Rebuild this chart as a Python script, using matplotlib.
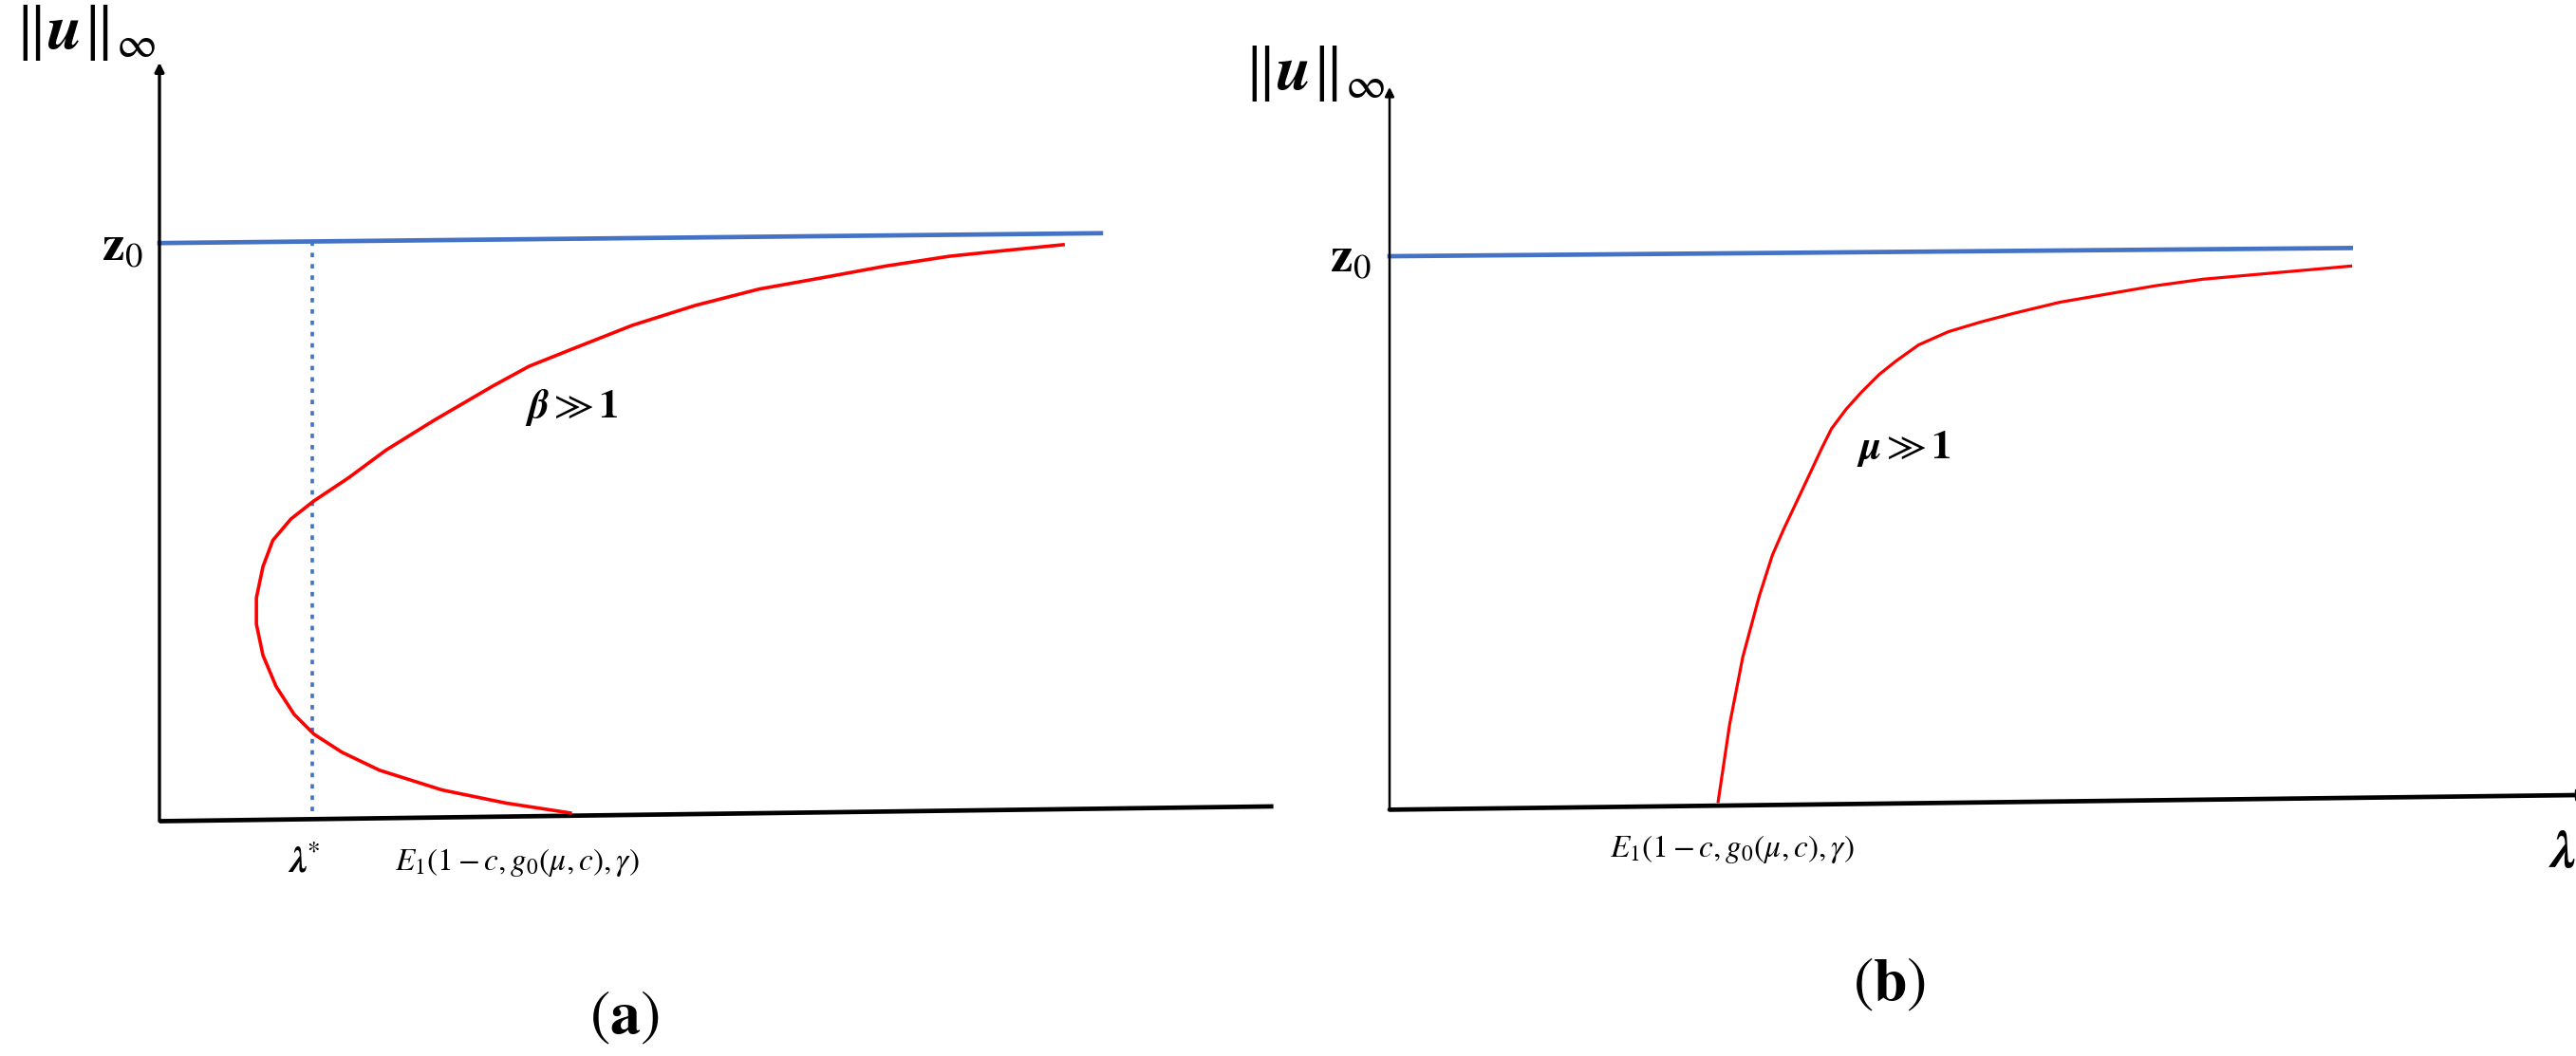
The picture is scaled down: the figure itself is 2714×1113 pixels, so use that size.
import matplotlib.pyplot as plt

plt.rcParams['mathtext.fontset'] = 'stix'
plt.rcParams['font.family'] = 'STIXGeneral'

W, H, DPI = 2714, 1113, 100
UNIT = 173.1  # full-size pixels per data unit

# panel (a): S-shaped branch for beta >> 1
a_lam = [2.50, 2.11, 1.72, 1.34, 1.11, 0.94, 0.82, 0.71, 0.63, 0.59, 0.59,
         0.63, 0.69, 0.80, 0.94, 1.15, 1.38, 1.67, 2.03, 2.25, 2.50, 2.88,
         3.26, 3.65, 4.04, 4.42, 4.81, 5.10, 5.50]
a_u = [0.05, 0.11, 0.19, 0.31, 0.42, 0.53, 0.65, 0.82, 1.01, 1.20, 1.36,
       1.55, 1.71, 1.84, 1.95, 2.09, 2.26, 2.44, 2.65, 2.77, 2.87, 3.02,
       3.14, 3.24, 3.31, 3.38, 3.44, 3.47, 3.51]
a_z0_lam = [0.0, 5.73]
a_z0_u = [3.52, 3.58]
a_xaxis_lam = [0.0, 6.78]
a_xaxis_u = [0.0, 0.09]
a_lam_star = 0.93

# panel (b): monotone branch for mu >> 1
b_lam = [2.00, 2.07, 2.15, 2.25, 2.33, 2.40, 2.48, 2.56, 2.63, 2.69, 2.78,
         2.87, 2.98, 3.08, 3.22, 3.40, 3.60, 3.79, 4.08, 4.37, 4.66, 4.95,
         5.40, 5.85]
b_u = [0.05, 0.52, 0.93, 1.30, 1.55, 1.71, 1.88, 2.05, 2.20, 2.32, 2.44,
       2.54, 2.65, 2.73, 2.83, 2.91, 2.97, 3.02, 3.09, 3.14, 3.19, 3.23,
       3.27, 3.31]
b_z0_lam = [0.0, 5.85]
b_z0_u = [3.37, 3.42]
b_xaxis_lam = [0.0, 7.31]
b_xaxis_u = [0.0, 0.09]

blue = '#4472C4'
red = '#FF0000'


def panel(fig, ox, oy, w, h):
    # ox, oy: origin in image pixels (y from top)
    ax = fig.add_axes([ox / W, (H - oy) / H, w / W, h / H])
    ax.set_xlim(0, w / UNIT)
    ax.set_ylim(0, h / UNIT)
    ax.axis('off')
    return ax


fig = plt.figure(figsize=(W / DPI, H / DPI), dpi=DPI)

label_u = r'$\|\mathbfit{u}\|_{\infty}$'
label_z = r'$\mathbf{z}_0$'
label_e = r'$E_1(1-c,g_0(\mu,c),\gamma)$'

# ---- (a)
ax = panel(fig, 168, 865.5, 1300, 860)
ax.annotate('', xy=(0, 4.62), xytext=(0, 0), annotation_clip=False,
            arrowprops=dict(arrowstyle='-|>', lw=2.4, color='black',
                            mutation_scale=14, shrinkA=0, shrinkB=0))
ax.plot(a_xaxis_lam, a_xaxis_u, color='black', lw=3.4, clip_on=False,
        solid_capstyle='butt')
ax.plot(a_z0_lam, a_z0_u, color=blue, lw=3.4, clip_on=False)
ax.plot([a_lam_star, a_lam_star], [0.06, 3.52], color=blue, lw=2.6,
        ls=(0, (1.3, 2.0)), clip_on=False)
ax.plot(a_lam, a_u, color=red, lw=2.6, clip_on=False)

ax.text(-0.45, 4.8, label_u, fontsize=48, ha='center', va='center')
ax.text(-0.1, 3.49, label_z, fontsize=38, ha='right', va='center')
ax.text(0.88, -0.25, r'$\mathbfit{\lambda}^{*}$', fontsize=28,
        ha='center', va='center')
ax.text(1.43, -0.25, label_e, fontsize=24, ha='left', va='center')
ax.text(2.51, 2.52, r'$\mathbfit{\beta}\gg\mathbf{1}$', fontsize=31,
        ha='center', va='center')
ax.text(2.83, -1.2, r'$(\mathbf{a})$', fontsize=46, ha='center',
        va='center')

# ---- (b)
ax = panel(fig, 1464, 853.4, 1300, 850)
ax.annotate('', xy=(0, 4.40), xytext=(0, 0), annotation_clip=False,
            arrowprops=dict(arrowstyle='-|>', lw=1.8, color='black',
                            mutation_scale=14, shrinkA=0, shrinkB=0))
ax.annotate('', xy=(b_xaxis_lam[1], b_xaxis_u[1]),
            xytext=(b_xaxis_lam[0], b_xaxis_u[0]), annotation_clip=False,
            arrowprops=dict(arrowstyle='-|>', lw=3.4, color='black',
                            mutation_scale=16, shrinkA=0, shrinkB=0))
ax.plot(b_z0_lam, b_z0_u, color=blue, lw=3.4, clip_on=False)
ax.plot(b_lam, b_u, color=red, lw=2.3, clip_on=False)

ax.text(-0.46, 4.48, label_u, fontsize=48, ha='center', va='center')
ax.text(-0.11, 3.35, label_z, fontsize=38, ha='right', va='center')
ax.text(1.34, -0.24, label_e, fontsize=24, ha='left', va='center')
ax.text(7.14, -0.27, r'$\mathbfit{\lambda}$', fontsize=40,
        ha='center', va='center')
ax.text(3.13, 2.20, r'$\mathbfit{\mu}\gg\mathbf{1}$', fontsize=31,
        ha='center', va='center')
ax.text(3.04, -1.07, r'$(\mathbf{b})$', fontsize=46, ha='center',
        va='center')

fig.savefig('out.png', dpi=DPI)
